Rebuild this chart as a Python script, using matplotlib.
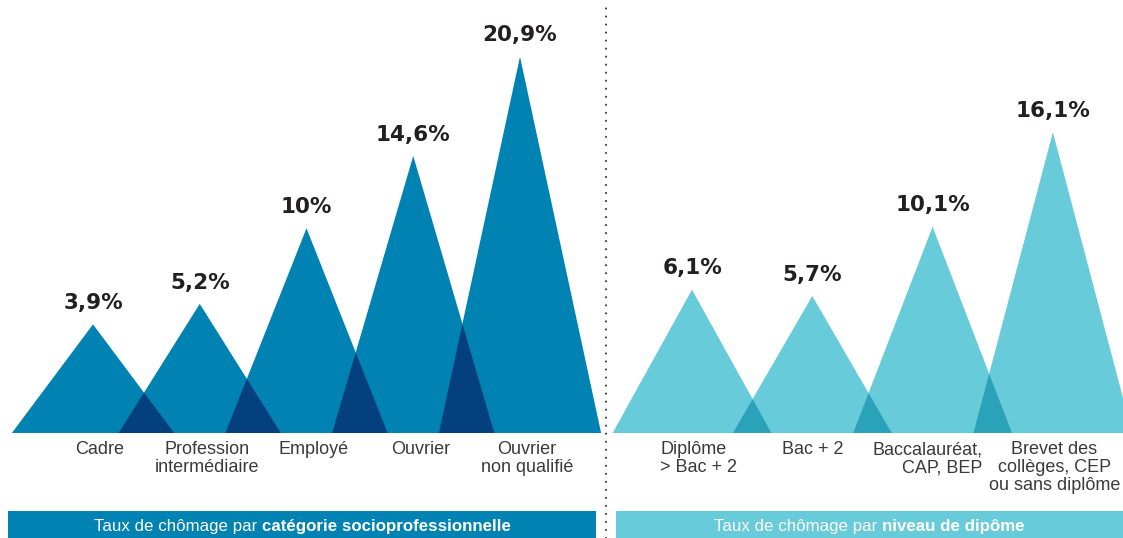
"""Taux de chômage par catégorie socioprofessionnelle et par niveau de diplôme."""

import matplotlib
matplotlib.use("Agg")
import matplotlib.pyplot as plt
from matplotlib import font_manager
from matplotlib.patches import Polygon, Rectangle
from matplotlib.lines import Line2D

# ── Data ──────────────────────────────────────────────────────────────────────
csp_labels = ["Cadre", "Profession\nintermédiaire", "Employé", "Ouvrier",
              "Ouvrier\nnon qualifié"]
csp_values = [3.9, 5.2, 10.0, 14.6, 20.9]
csp_text = ["3,9%", "5,2%", "10%", "14,6%", "20,9%"]

dip_labels = ["Diplôme\n> Bac + 2", "Bac + 2", "Baccalauréat,\nCAP, BEP",
              "Brevet des\ncollèges, CEP\nou sans diplôme"]
dip_values = [6.1, 5.7, 10.1, 16.1]
dip_text = ["6,1%", "5,7%", "10,1%", "16,1%"]

# ── Style ─────────────────────────────────────────────────────────────────────
BLUE, BLUE_DARK = "#0082b3", "#043f7e"
CYAN, CYAN_DARK = "#67cbda", "#2aa2ba"
TXT = "#231f20"
BASE = -3.0          # triangles stand on a floor slightly below zero
YTOP = 24.5

names = {f.name for f in font_manager.fontManager.ttflist}
NARROW = "Liberation Sans Narrow" if "Liberation Sans Narrow" in names else None
SANS = "Liberation Sans"

W, H = 1123, 538
fig = plt.figure(figsize=(W / 100, H / 100), dpi=100)


def overlap(c1, h1, c2, h2, w):
    """Triangle shared by two neighbouring peaks (both on BASE)."""
    r1, l2 = c1 + w, c2 - w
    H1, H2 = h1 - BASE, h2 - BASE
    x = (H1 * r1 + H2 * l2) / (H1 + H2)
    y = BASE + H1 * (r1 - x) / w
    return [(l2, BASE), (x, y), (r1, BASE)]


def peaks(ax, values, texts, labels, half, col, col_dark, label_dx, label_ha):
    for i, v in enumerate(values):
        ax.add_patch(Polygon([(i - half, BASE), (i, v), (i + half, BASE)],
                             closed=True, facecolor=col, edgecolor="none"))
    for i in range(len(values) - 1):
        ax.add_patch(Polygon(overlap(i, values[i], i + 1, values[i + 1], half),
                             closed=True, facecolor=col_dark, edgecolor="none"))
    for i, (v, t) in enumerate(zip(values, texts)):
        ax.annotate(t, (i, v), xytext=(0, 11), textcoords="offset points",
                    ha="center", va="baseline", fontsize=15.5,
                    fontweight="bold", color=TXT, family="DejaVu Sans")
    for i, lab in enumerate(labels):
        ax.annotate(lab, (i, BASE), xytext=(label_dx[i], -6),
                    textcoords="offset points", ha="center", va="top",
                    multialignment=label_ha[i], fontsize=13, color="#3a3a3a",
                    family=SANS, linespacing=1.07)


# px -> figure fractions
ax_bottom = (H - 433) / H
ax_height = 433 / H

ax1 = fig.add_axes([0, ax_bottom, 606 / W, ax_height])
ax1.set_xlim(-93 / 106.75, (606 - 93) / 106.75)
ax1.set_ylim(BASE, YTOP)
ax1.axis("off")
peaks(ax1, csp_values, csp_text, csp_labels, 0.76, BLUE, BLUE_DARK,
      [5, 5, 5, 5, 5], ["center"] * 5)

ax2 = fig.add_axes([606 / W, ax_bottom, (W - 606) / W, ax_height])
ax2.set_xlim(-86 / 120.3, (W - 606 - 86) / 120.3)
ax2.set_ylim(BASE, YTOP)
ax2.axis("off")
peaks(ax2, dip_values, dip_text, dip_labels, 0.66, CYAN, CYAN_DARK,
      [5, 0, -4, 1], ["left", "center", "right", "center"])

# dotted separator
fig.add_artist(Line2D([606 / W, 606 / W], [0, 1 - 5 / H],
                      transform=fig.transFigure, color="#444444", lw=1.6,
                      linestyle=(0, (0.01, 3.6)), dash_capstyle="round"))

# ── Bottom banners ────────────────────────────────────────────────────────────
banners = [
    (8, 596, BLUE, "Taux de chômage par ", "catégorie socioprofessionnelle"),
    (616, W, CYAN, "Taux de chômage par ", "niveau de dipôme"),
]
fig.canvas.draw()
renderer = fig.canvas.get_renderer()
for x0, x1, col, plain, bold in banners:
    fig.add_artist(Rectangle((x0 / W, 0), (x1 - x0) / W, 27 / H,
                             transform=fig.transFigure, facecolor=col,
                             edgecolor="none"))
    fam = NARROW or SANS
    size = 14.5 if NARROW else 12.2
    yb = 6.5 / H
    t1 = fig.text(0, yb, plain, color="white", fontsize=size, family=fam,
                  ha="left", va="baseline")
    t2 = fig.text(0, yb, bold, color="white", fontsize=size, family=fam,
                  fontweight="bold", ha="left", va="baseline")
    w1 = t1.get_window_extent(renderer).width
    w2 = t2.get_window_extent(renderer).width
    start = (x0 + x1) / 2 - (w1 + w2) / 2
    t1.set_x(start / W)
    t2.set_x((start + w1) / W)

fig.savefig("out.png", dpi=100)
